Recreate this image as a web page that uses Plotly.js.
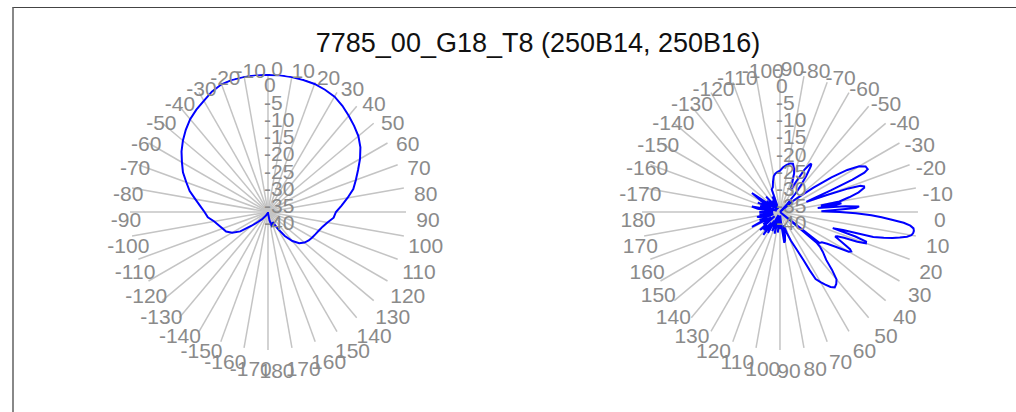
<!DOCTYPE html>
<html>
<head>
<meta charset="utf-8">
<script src="https://cdn.plot.ly/plotly-3.0.1.min.js"></script>
<style>
html,body{margin:0;padding:0;background:#fff;overflow:hidden;}
#chart{position:absolute;left:0;top:0;width:1016px;height:412px;}
#frame{position:absolute;left:12px;top:7px;width:1100px;height:500px;border-top:1px solid #444;border-left:2px solid #888;pointer-events:none;}
</style>
</head>
<body>
<div id="chart"></div>
<div id="frame"></div>
<script>
const titleText = "7785_00_G18_T8 (250B14, 250B16)";

const angTickVals = [0,10,20,30,40,50,60,70,80,90,100,110,120,130,140,150,160,170,180,190,200,210,220,230,240,250,260,270,280,290,300,310,320,330,340,350];
const angTickText = ["0","10","20","30","40","50","60","70","80","90","100","110","120","130","140","150","160","170","180","-170","-160","-150","-140","-130","-120","-110","-100","-90","-80","-70","-60","-50","-40","-30","-20","-10"];

const radialRange = [-40, 0];
const radTickVals = [-40,-35,-30,-25,-20,-15,-10,-5,0];
const radTickText = ["-40","-35","-30","-25","-20","-15","-10","-5","0"];

// Left pattern (250B14)
const leftTheta = [-180,-175,-170,-165,-160,-155,-150,-145,-140,-135,-130,-125,-120,-115,-110,-105,-100,-95,-90,-85,-80,-75,-70,-65,-60,-55,-50,-45,-40,-35,-30,-25,-20,-15,-10,-5,0,5,10,15,20,25,30,35,40,45,50,55,60,65,70,75,80,85,90,95,100,105,110,115,120,125,130,135,140,145,150,155,160,165,170,175,180];
const leftR = [-40,-39.9,-39.8,-39.7,-39.5,-39.2,-38.8,-38.2,-37.2,-36.0,-33.8,-30.2,-28.0,-26.6,-26.0,-25.2,-24.2,-22.5,-21.6,-20.3,-18.6,-16.5,-14.8,-12.8,-11.2,-9.4,-7.8,-6.3,-4.9,-3.8,-2.8,-1.5,-0.6,-0.3,-0.2,-0.1,-0.3,-0.2,-0.3,-0.4,-0.5,-0.9,-1.4,-2.4,-3.6,-4.7,-5.8,-7.3,-9.2,-11.2,-12.9,-14.4,-16.6,-18.6,-20.3,-20.9,-22.5,-23.6,-24.3,-24.8,-25.2,-25.6,-26.2,-27.2,-29.0,-31.5,-34.5,-36.8,-36.0,-35.8,-37.5,-39.5,-40];

// Right pattern (250B16)
const rightTheta = [-180,-176,-172,-169,-166,-163,-160,-157,-154,-150,-146,-143,-140,-136,-132,-128,-124,-120,-116,-113,-110,-106,-103,-100,-97,-94,-90,-86,-82,-78,-75,-72,-70,-67,-64,-62,-60,-58,-57,-56,-54,-52,-50,-48,-46,-43,-40,-38,-36,-34,-32,-30,-28,-26,-25,-24,-23,-22,-21,-20,-19,-18,-17,-16,-14,-12,-10,-9,-8,-7,-6,-5,-4,-3,-2,-1,0,1,2,3,4,5,6,7,8,9,10,11,12,13,14,15,16,17,18,19,20,21,22,23,24,26,28,29,30,32,34,36,38,39,40,41,43,46,48,50,52,54,56,58,60,62,63,64,66,69,72,75,78,80,82,84,87,90,93,96,100,104,108,112,116,120,123,126,129,132,135,138,141,144,148,152,155,158,162,165,168,171,174,177,180];
const rightR = [-34,-38,-33.5,-31.7,-37,-34,-39,-33,-37,-34,-30.2,-38,-35,-39,-34,-38,-36,-39,-35,-38,-33,-32.5,-31,-29.5,-28.8,-28.4,-28,-27,-26.2,-25.6,-25.5,-26.8,-28,-31,-33,-30,-26,-23.8,-23.3,-24,-27,-30,-33,-37,-40,-40,-35,-32.5,-28,-22,-17,-13.5,-11.9,-11.7,-13,-17,-24,-30,-31.8,-26,-19,-15.5,-14.5,-14.6,-16.5,-19.5,-22.5,-28,-22,-24,-29,-21,-17,-18,-24,-28,-22.7,-18,-13.5,-10.5,-7.5,-4,-2,-1,-0.8,-0.9,-1.3,-2.5,-4.5,-6.5,-9,-12,-21,-24,-17,-13.6,-13.5,-16,-20,-22,-22.5,-20,-17,-16.4,-17,-21,-23.5,-25,-25.4,-40,-26,-24.7,-23,-20.7,-17.5,-14.5,-13.5,-13,-13.8,-15.2,-16.5,-18,-21,-24.6,-28,-31,-33.6,-36,-33,-31.5,-31,-36,-39,-35,-38,-34,-39,-33.5,-37,-34,-39,-33,-37,-31.8,-36,-33,-34.6,-32.2,-38,-34,-37,-30.8,-36,-33.6,-38,-34,-33.2,-38,-34,-37,-34];

const W = 1016, H = 412;
const gridColor = "#c4c4c4";
const tickColor = "#8a8a8a";
const fontFamily = "Liberation Sans, Arial, sans-serif";

function angAxis(rotation) {
  return {
    rotation: rotation,
    direction: "clockwise",
    tickmode: "array",
    tickvals: angTickVals,
    ticktext: angTickText,
    showgrid: true,
    gridcolor: gridColor,
    gridwidth: 1.5,
    showline: false,
    ticks: "",
    tickfont: {size: 21, color: tickColor, family: fontFamily}
  };
}
function radAxis() {
  return {
    range: radialRange,
    angle: 90,
    tickmode: "array",
    tickvals: radTickVals,
    ticktext: radTickText,
    showgrid: false,
    showline: false,
    ticks: "",
    tickfont: {size: 21, color: tickColor, family: fontFamily}
  };
}

const traces = [
  {type: "scatterpolar", mode: "lines", theta: leftTheta, r: leftR, subplot: "polar",
   line: {color: "#0000ff", width: 2}, showlegend: false},
  {type: "scatterpolar", mode: "lines", theta: rightTheta, r: rightR, subplot: "polar2",
   line: {color: "#0000ff", width: 2}, showlegend: false}
];

const layout = {
  width: W, height: H,
  margin: {l: 0, r: 0, t: 0, b: 0, pad: 0},
  paper_bgcolor: "#ffffff",
  font: {family: fontFamily},
  title: {text: titleText, x: 0.5295, xanchor: "center", y: 0.8956, yanchor: "middle", yref: "container",
          font: {size: 27, color: "#111111", family: fontFamily}},
  showlegend: false,
  polar: {
    domain: {x: [0.12795, 0.3996], y: [0.1505, 0.8204]},
    bgcolor: "#ffffff",
    angularaxis: angAxis(90),
    radialaxis: radAxis()
  },
  polar2: {
    domain: {x: [0.6319, 0.9035], y: [0.1505, 0.8204]},
    bgcolor: "#ffffff",
    angularaxis: angAxis(0),
    radialaxis: radAxis()
  }
};

// label placement (matches the reference's label layout)
const LABEL_R_EXTRA = 13;   // angular labels: distance beyond the plot radius
const ANG_OFF = [9, 7.5];
const RAD_OFF = [-4, 11];

function subplotGeom(p) {
  const d = p.domain;
  return {cx: (d.x[0] + d.x[1]) / 2 * W, cy: (1 - (d.y[0] + d.y[1]) / 2) * H,
          R: Math.min((d.x[1] - d.x[0]) * W, (d.y[1] - d.y[0]) * H) / 2,
          rot: p.angularaxis.rotation};
}
const geoms = [subplotGeom(layout.polar), subplotGeom(layout.polar2)];

function moveBy(t, dx, dy) {
  const M = t.parentNode.getScreenCTM();
  const det = M.a * M.d - M.b * M.c;
  const lx = (M.d * dx - M.c * dy) / det;
  const ly = (-M.b * dx + M.a * dy) / det;
  t.setAttribute("transform", "translate(" + lx + "," + ly + ") " + (t.getAttribute("transform") || ""));
}
function collect(sel) {
  const s = new Set();
  document.querySelectorAll(sel).forEach(function (t) { s.add(t); });
  return Array.from(s);
}
function val(t) { return parseFloat(t.textContent.replace("\u2212", "-")); }

Plotly.newPlot("chart", traces, layout, {displayModeBar: false, staticPlot: true}).then(function () {
  collect(".angular-axis text, .angularaxistick text").forEach(function (t) {
    const v = val(t); if (isNaN(v)) return;
    const b = t.getBoundingClientRect();
    const g = geoms[(b.left + b.right) / 2 < W / 2 ? 0 : 1];
    const phi = (g.rot - v) * Math.PI / 180;
    const rl = g.R + LABEL_R_EXTRA;
    const tx = g.cx + rl * Math.cos(phi) + ANG_OFF[0];
    const ty = g.cy - rl * Math.sin(phi) + ANG_OFF[1];
    moveBy(t, tx - (b.left + b.right) / 2, ty - (b.top + b.bottom) / 2);
  });
  collect(".radial-axis text, .radialaxistick text").forEach(function (t) {
    const v = val(t); if (isNaN(v)) return;
    const b = t.getBoundingClientRect();
    const g = geoms[(b.left + b.right) / 2 < W / 2 ? 0 : 1];
    const frac = (v - radialRange[0]) / (radialRange[1] - radialRange[0]);
    const tx = g.cx + RAD_OFF[0];
    const ty = g.cy - frac * g.R + RAD_OFF[1];
    moveBy(t, tx - b.left, ty - (b.top + b.bottom) / 2);
  });
});
</script>
</body>
</html>
